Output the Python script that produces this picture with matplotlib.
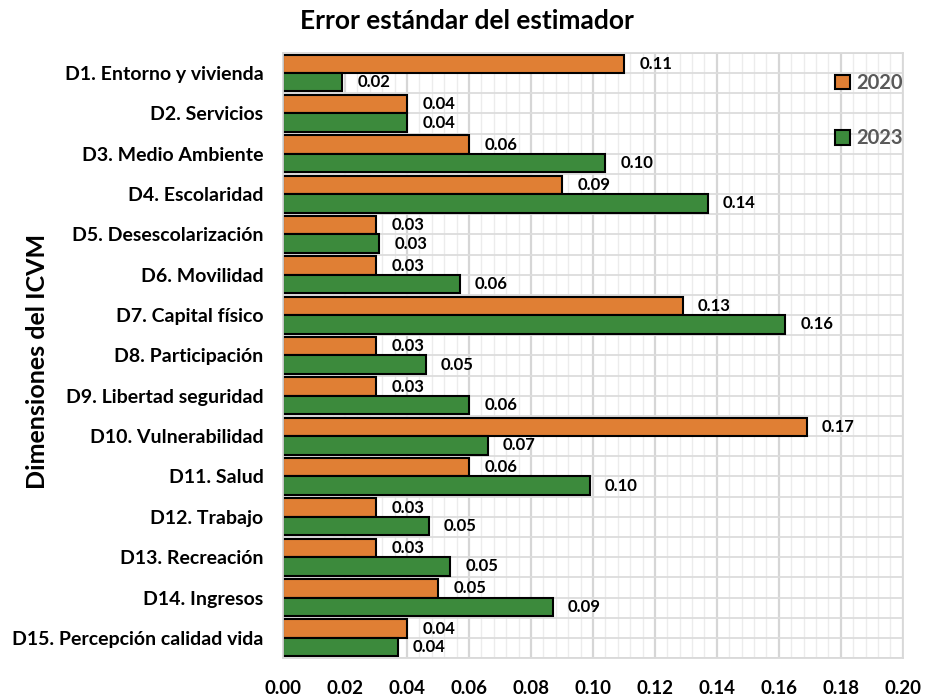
import matplotlib
matplotlib.use('Agg')
import matplotlib.pyplot as plt
from matplotlib.ticker import MultipleLocator, FixedLocator
import numpy as np

# datos
dimensiones = ['D1. Entorno y vivienda', 'D2. Servicios', 'D3. Medio Ambiente',
               'D4. Escolaridad', 'D5. Desescolarización', 'D6. Movilidad',
               'D7. Capital físico', 'D8. Participación', 'D9. Libertad seguridad',
               'D10. Vulnerabilidad', 'D11. Salud', 'D12. Trabajo',
               'D13. Recreación', 'D14. Ingresos', 'D15. Percepción calidad vida']
err_2020 = [0.110, 0.040, 0.060, 0.090, 0.030, 0.030, 0.129, 0.030,
            0.030, 0.169, 0.060, 0.030, 0.030, 0.050, 0.040]
err_2023 = [0.019, 0.040, 0.104, 0.137, 0.031, 0.057, 0.162, 0.046,
            0.060, 0.066, 0.099, 0.047, 0.054, 0.087, 0.037]
anios = ['2020', '2023']
colores = ['#E07F34', '#3C8A3C']

plt.rcParams['font.family'] = ['Lato', 'DejaVu Sans']
plt.rcParams['font.weight'] = 'bold'

fig = plt.figure(figsize=(9.25, 6.98), dpi=100)
ax = fig.add_axes([0.306, 0.0573, 0.670, 0.8668])

y = np.arange(len(dimensiones))
h = 0.455
b1 = ax.barh(y - h / 2, err_2020, height=h, color=colores[0], edgecolor='black',
             linewidth=1.5, label=anios[0])
b2 = ax.barh(y + h / 2, err_2023, height=h, color=colores[1], edgecolor='black',
             linewidth=1.5, label=anios[1])
for b in (b1, b2):
    ax.bar_label(b, fmt='%.2f', padding=11, fontsize=12, fontweight='bold')

ax.set_xlim(0, 0.2)
ax.set_ylim(len(dimensiones) - 0.5, -0.5)
ax.xaxis.set_major_locator(MultipleLocator(0.02))
ax.xaxis.set_minor_locator(MultipleLocator(0.004))
ax.xaxis.set_major_formatter(lambda v, p: f'{v:.2f}')
ax.set_yticks(y)
ax.set_yticklabels(dimensiones)
ax.yaxis.set_minor_locator(FixedLocator(np.arange(-0.5, len(dimensiones), 1)))

ax.set_axisbelow(True)
ax.grid(axis='x', which='major', color='#d6d6d6', linewidth=1.6)
ax.grid(axis='x', which='minor', color='#ececec', linewidth=1.0)
ax.grid(axis='y', which='both', color='#dcdcdc', linewidth=1.3)
ax.tick_params(which='both', length=0)
ax.tick_params(axis='x', pad=16, labelsize=13.5)
ax.tick_params(axis='y', pad=14, labelsize=14)
for s in ax.spines.values():
    s.set_color('#d9d9d9')
    s.set_linewidth(1.3)

ax.set_ylabel('Dimensiones del ICVM', fontsize=18, fontweight='bold')
ax.yaxis.set_label_coords(-0.378, 0.49)
fig.suptitle('Error estándar del estimador', x=0.505, y=0.97, va='center',
             fontsize=19, fontweight='bold')

ax.legend(loc='upper right', bbox_to_anchor=(1.0, 0.967), frameon=False,
          borderaxespad=0, borderpad=0, handlelength=0.75, handleheight=0.75,
          handletextpad=0.3, labelspacing=1.75, labelcolor='#595959',
          prop={'size': 14.5, 'weight': 'bold'})

fig.savefig('out.png', dpi=100)
